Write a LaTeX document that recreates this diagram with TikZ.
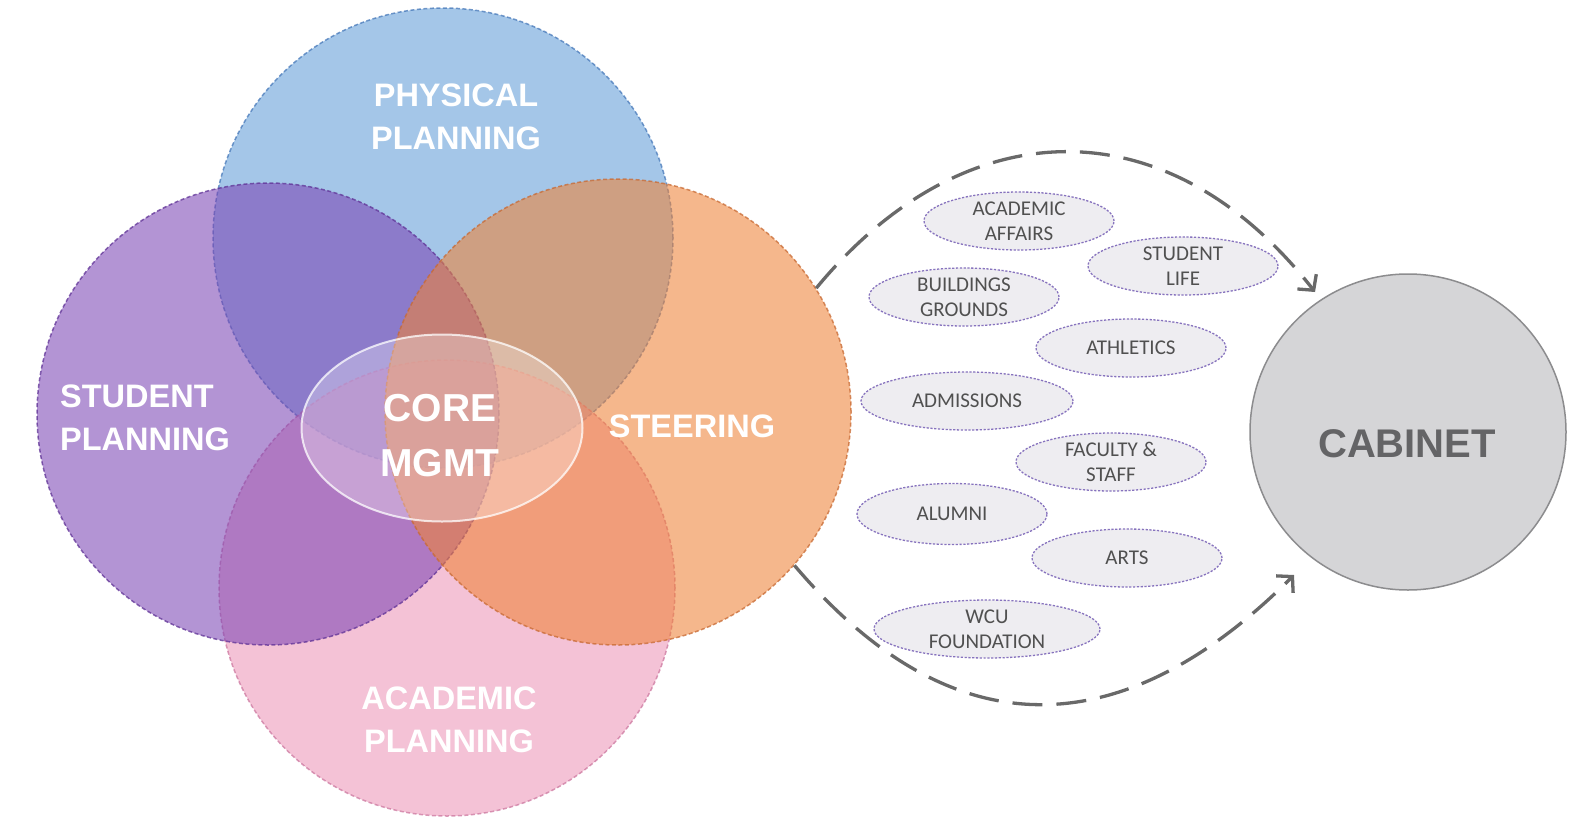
\documentclass[tikz,border=0pt]{standalone}
\usepackage{fontspec}
\setmainfont{Liberation Sans}
\newfontfamily\smallfont{Carlito}
\usetikzlibrary{shapes.geometric,arrows.meta}
\definecolor{cblue}{RGB}{95,155,215}
\definecolor{cpurple}{RGB}{123,67,180}
\definecolor{corange}{RGB}{239,130,53}
\definecolor{cpink}{RGB}{236,148,183}
\definecolor{cblueb}{RGB}{70,120,185}
\definecolor{cpurpleb}{RGB}{95,50,150}
\definecolor{corangeb}{RGB}{200,105,50}
\definecolor{cpinkb}{RGB}{205,120,160}
\definecolor{arcgray}{RGB}{105,105,105}
\definecolor{ovalfill}{RGB}{238,237,241}
\definecolor{ovaldraw}{RGB}{135,115,190}
\definecolor{ovaltext}{RGB}{80,80,80}
\definecolor{cabfill}{RGB}{213,213,215}
\definecolor{cabdraw}{RGB}{140,140,142}
\definecolor{cabtext}{RGB}{100,100,102}
\begin{document}
\begin{tikzpicture}[x=1pt,y=-1pt,
  venn/.style={circle,inner sep=0,minimum size=#1,fill opacity=0.57,draw opacity=0.75,
    dash pattern=on 4pt off 2.5pt,line width=1.5pt},
  biglabel/.style={text=white,inner sep=0,align=center,
    font=\fontsize{32.5}{43}\selectfont\bfseries},
  corelabel/.style={text=white,inner sep=0,align=center,
    font=\fontsize{39}{55}\selectfont\bfseries},
  oval/.style={ellipse,inner sep=0,minimum width=#1,minimum height=58pt,
    fill=ovalfill,draw=ovaldraw,line width=1.3pt,dash pattern=on 2.2pt off 1.6pt,
    text=ovaltext,align=center,font=\smallfont\fontsize{21}{25}\selectfont},
  oval/.default=190pt,
  flow/.style={draw=arcgray,line width=3.3pt,dash pattern=on 30pt off 14pt,
    -{Straight Barb[length=11pt,width=24pt,line width=3.3pt]}}
]
\useasboundingbox (0,0) rectangle (1585,825);
\fill[white] (0,0) rectangle (1585,825);

% Venn circles
\node[venn=460pt,fill=cblue,draw=cblueb] (phys) at (443,238) {};
\node[venn=456pt,fill=cpink,draw=cpinkb] (acad) at (447,588) {};
\node[venn=462pt,fill=cpurple,draw=cpurpleb] (stud) at (268,414) {};
\node[venn=466pt,fill=corange,draw=corangeb] (steer) at (618,412) {};

% core ellipse
\node[ellipse,inner sep=0,minimum width=281pt,minimum height=187pt,
  fill=white,fill opacity=0.3,draw=white,draw opacity=0.75,line width=2pt] (core) at (442,428) {};

% labels
\node[biglabel] (physt) at (456,117) {PHYSICAL\\PLANNING};
\node[biglabel,align=left,anchor=west] (studt) at (60,418) {STUDENT\\PLANNING};
\node[biglabel] (steert) at (692,426) {STEERING};
\node[biglabel] (acadt) at (449,720) {ACADEMIC\\PLANNING};
\node[corelabel] (coret) at (440,436) {CORE\\MGMT};

% cabinet
\node[circle,inner sep=0,minimum size=316pt,fill=cabfill,draw=cabdraw,line width=1.5pt] (cab) at (1408,432) {};
\node[text=cabtext,inner sep=0,font=\fontsize{40}{44}\selectfont\bfseries] (cabt) at (1407,444) {CABINET};

% ovals
\node[oval] (aa) at (1019,221) {ACADEMIC\\AFFAIRS};
\node[oval] (sl) at (1183,266) {STUDENT\\LIFE};
\node[oval] (bg) at (964,297) {BUILDINGS\\GROUNDS};
\node[oval] (ath) at (1131,348) {ATHLETICS};
\node[oval=212pt] (adm) at (967,401) {ADMISSIONS};
\node[oval] (fs) at (1111,462) {FACULTY \&\\STAFF};
\node[oval,minimum height=61pt] (alu) at (952,514) {ALUMNI};
\node[oval] (arts) at (1127,558) {ARTS};
\node[oval=226pt] (wcu) at (987,629) {WCU\\FOUNDATION};

% flow arcs
\coordinate (t1) at (1315,292);
\coordinate (t2) at (1294,575);
\draw[flow] (steer.32) .. controls (964,109) and (1167,103) .. (t1);
\draw[flow] (steer.-41) .. controls (960,761) and (1132,737) .. (t2);
\end{tikzpicture}
\end{document}
